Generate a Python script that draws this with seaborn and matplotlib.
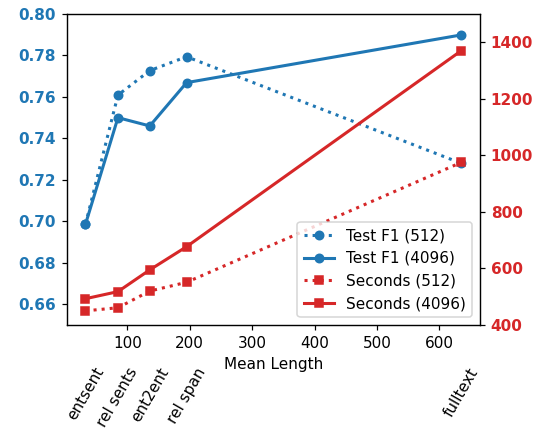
import pandas as pd
import matplotlib
matplotlib.use('Agg')
import matplotlib.pyplot as plt
import seaborn as sns

# Values
context_names = ['entsent', 'rel sents', 'ent2ent', 'rel span', 'fulltext']
mean_length = [33, 85, 136, 195, 635]
f1_512 = [0.6986, 0.7609, 0.7727, 0.7794, 0.728]
f1_4096 = [0.6986, 0.750, 0.746, 0.7669, 0.7899]
seconds_512 = [450, 461, 520, 551, 975]
seconds_4096 = [493, 518, 595, 677, 1370]

blue = '#1f77b4'
red = '#d62728'

df = pd.DataFrame({
    'length': mean_length,
    'f1_512': f1_512,
    'f1_4096': f1_4096,
    'sec_512': seconds_512,
    'sec_4096': seconds_4096,
})

plt.rcParams['font.family'] = ['DejaVu Sans']

fig, ax = plt.subplots(figsize=(545 / 110, 428 / 110), dpi=110)
fig.subplots_adjust(left=0.1224, right=0.8807, top=0.9673, bottom=0.2407)
ax2 = ax.twinx()

line_kw = dict(lw=2, markersize=5.5, mew=1)
sns.lineplot(x='length', y='f1_512', data=df, ax=ax, color=blue, marker='o',
             linestyle=':', label='Test F1 (512)', mec=blue, **line_kw)
sns.lineplot(x='length', y='f1_4096', data=df, ax=ax, color=blue, marker='o',
             linestyle='-', label='Test F1 (4096)', mec=blue, **line_kw)
sns.lineplot(x='length', y='sec_512', data=df, ax=ax2, color=red, marker='s',
             linestyle=':', label='Seconds (512)', mec=red, **line_kw)
sns.lineplot(x='length', y='sec_4096', data=df, ax=ax2, color=red, marker='s',
             linestyle='-', label='Seconds (4096)', mec=red, **line_kw)

ax.set_ylim(0.65, 0.80)
ax.set_yticks([0.66, 0.68, 0.70, 0.72, 0.74, 0.76, 0.78, 0.80])
ax2.set_ylim(400, 1500)
ax2.set_yticks([400, 600, 800, 1000, 1200, 1400])
ax.set_xticks([100, 200, 300, 400, 500, 600])

ax.set_xlabel('Mean Length', fontsize=10)
ax.set_ylabel('')
ax2.set_ylabel('')

for lbl in ax.get_yticklabels():
    lbl.set_color(blue)
    lbl.set_fontweight('bold')
for lbl in ax2.get_yticklabels():
    lbl.set_color(red)
    lbl.set_fontweight('bold')
ax.tick_params(labelsize=10)
ax2.tick_params(labelsize=10)

# context names under the axis, one per point
for name, x in zip(context_names, mean_length):
    ax.text(x, -0.1286, name, transform=ax.get_xaxis_transform(),
            rotation=60, ha='center', va='top', fontsize=10)

h1, l1 = ax.get_legend_handles_labels()
h2, l2 = ax2.get_legend_handles_labels()
ax.get_legend().remove()
ax2.legend(h1 + h2, l1 + l2, loc='lower right', fontsize=10)

fig.savefig('out.png', dpi=110)
